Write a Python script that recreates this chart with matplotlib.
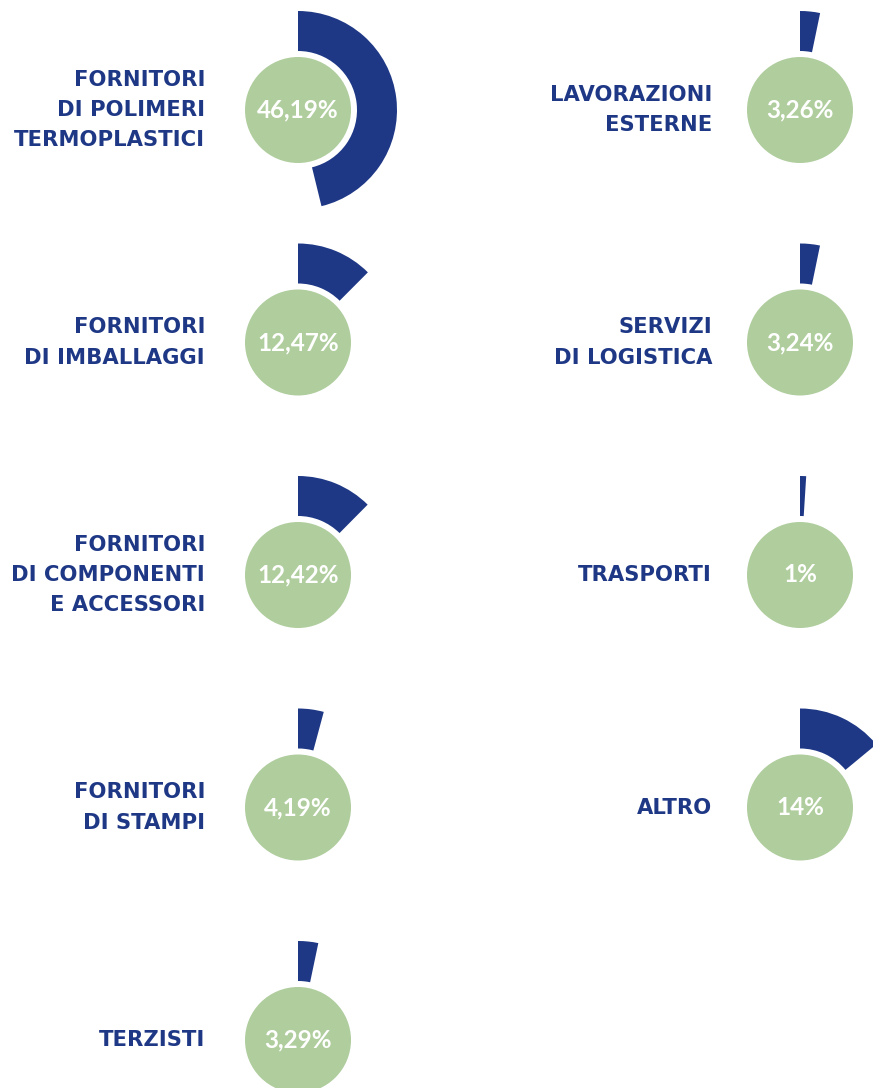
import matplotlib.pyplot as plt
from matplotlib.patches import Wedge, Circle

W, H = 873, 1088
blue = '#1e3886'
green = '#afcd9d'

labels = ['FORNITORI\nDI POLIMERI\nTERMOPLASTICI', 'FORNITORI\nDI IMBALLAGGI',
          'FORNITORI\nDI COMPONENTI\nE ACCESSORI', 'FORNITORI\nDI STAMPI', 'TERZISTI',
          'LAVORAZIONI\nESTERNE', 'SERVIZI\nDI LOGISTICA', 'TRASPORTI', 'ALTRO']
values = [46.19, 12.47, 12.42, 4.19, 3.29, 3.26, 3.24, 1, 14]
pct_text = ['46,19%', '12,47%', '12,42%', '4,19%', '3,29%', '3,26%', '3,24%', '1%', '14%']
cols = [0, 0, 0, 0, 0, 1, 1, 1, 1]
rows = [0, 1, 2, 3, 4, 0, 1, 2, 3]

col_x = [298, 800]
text_x = [205, 712]
row_y0, row_dy = 110, 232.5
r_c, r_in, r_out = 53, 59, 99

fig = plt.figure(figsize=(W / 100, H / 100), dpi=100)
ax = fig.add_axes([0, 0, 1, 1])
ax.set_xlim(0, W)
ax.set_ylim(0, H)
ax.set_aspect('equal')
ax.axis('off')

for lab, v, pt, c, r in zip(labels, values, pct_text, cols, rows):
    cx = col_x[c]
    cy = H - (row_y0 + r * row_dy)
    ax.add_patch(Circle((cx, cy), r_c, color=green, lw=0))
    ax.add_patch(Wedge((cx, cy), r_out, 90 - v * 3.6, 90, width=r_out - r_in, color=blue, lw=0))
    ax.text(cx, cy, pt, ha='center', va='center', color='white', fontsize=17.5,
            fontweight='bold', family='Lato')
    ax.text(text_x[c], cy, lab, ha='right', va='center', multialignment='right', color=blue,
            fontsize=15.2, fontweight='bold', family='DejaVu Sans', linespacing=1.64)

fig.savefig('out.png', dpi=100)
